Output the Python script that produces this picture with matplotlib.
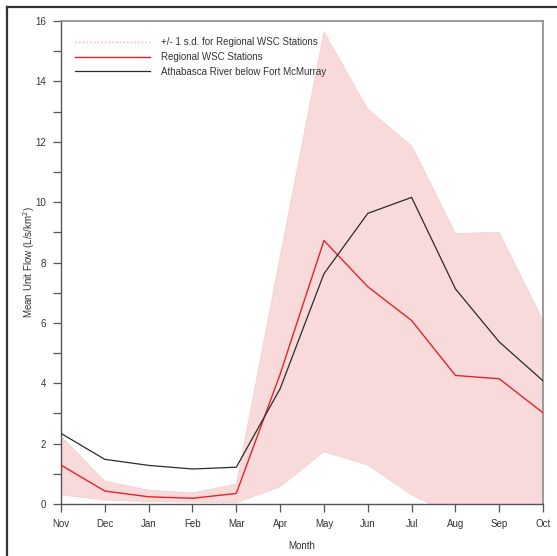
import matplotlib
matplotlib.use("Agg")
import matplotlib.pyplot as plt
from matplotlib.lines import Line2D
from matplotlib.ticker import MultipleLocator
import numpy as np

months = ["Nov", "Dec", "Jan", "Feb", "Mar", "Apr", "May", "Jun", "Jul", "Aug", "Sep", "Oct"]
regional = [1.29, 0.43, 0.24, 0.19, 0.35, 4.3, 8.73, 7.2, 6.08, 4.26, 4.15, 3.02]
athabasca = [2.34, 1.48, 1.28, 1.16, 1.22, 3.82, 7.63, 9.63, 10.16, 7.13, 5.37, 4.08]
sd_upper = [2.25, 0.76, 0.46, 0.37, 0.66, 8.2, 15.65, 13.09, 11.87, 8.97, 9.0, 6.08]
sd_lower = [0.3, 0.13, 0.07, 0.06, 0.04, 0.57, 1.73, 1.29, 0.3, -0.41, -0.8, -0.6]

plt.rcParams['font.family'] = ['Liberation Sans', 'DejaVu Sans']

fig = plt.figure(figsize=(5.57, 5.56), dpi=100)
ax = fig.add_axes([0.1095, 0.0935, 0.8655, 0.8685])

x = np.arange(len(months))
fill_col = "#f8dada"
ax.fill_between(x, sd_lower, sd_upper, facecolor=fill_col, edgecolor="#eab0b0",
                linewidth=0.6, linestyle=":", zorder=1)
ax.plot(x, regional, color="#e3242b", linewidth=1.0, zorder=3)
ax.plot(x, athabasca, color="#2b2b2b", linewidth=0.9, zorder=3)

ax.set_xlim(0, 11)
ax.set_ylim(0, 16)
ax.set_xticks(x)
ax.set_xticklabels(months)
ax.yaxis.set_major_locator(MultipleLocator(2))
ax.yaxis.set_minor_locator(MultipleLocator(1))

for s in ["top", "right"]:
    ax.spines[s].set_color("#8a8a8a")
    ax.spines[s].set_linewidth(1.2)
for s in ["left", "bottom"]:
    ax.spines[s].set_color("#555555")
    ax.spines[s].set_linewidth(1.0)

ax.tick_params(axis="both", which="both", direction="out", length=6, width=0.9,
               color="#555555", labelsize=7, labelcolor="#333333")
ax.tick_params(axis="y", which="major", pad=5)
ax.tick_params(axis="x", which="major", pad=5)

ax.set_xlabel("Month", fontsize=7, color="#333333")
ax.xaxis.set_label_coords(0.5, -0.076)
ax.set_ylabel("Mean Unit Flow (L/s/km$^2$)", fontsize=7, color="#333333")
ax.yaxis.set_label_coords(-0.05, 0.5)

handles = [
    Line2D([], [], color="#eeaaaa", linestyle=":", linewidth=1.0),
    Line2D([], [], color="#e3242b", linewidth=1.0),
    Line2D([], [], color="#2b2b2b", linewidth=0.9),
]
labels = ["+/- 1 s.d. for Regional WSC Stations", "Regional WSC Stations",
          "Athabasca River below Fort McMurray"]
leg = ax.legend(handles, labels, loc="upper left", bbox_to_anchor=(0.01, 0.985),
                frameon=False, fontsize=7, handlelength=7.8, handletextpad=1.1,
                labelspacing=0.5, labelcolor="#333333")

# outer figure frame (top and left visible)
fig.add_artist(Line2D([0.0125, 0.0125], [0, 0.9875], transform=fig.transFigure,
                      color="#333333", linewidth=1.6))
fig.add_artist(Line2D([0.0125, 1.0], [0.9875, 0.9875], transform=fig.transFigure,
                      color="#333333", linewidth=1.6))

fig.savefig("out.png", dpi=100)
